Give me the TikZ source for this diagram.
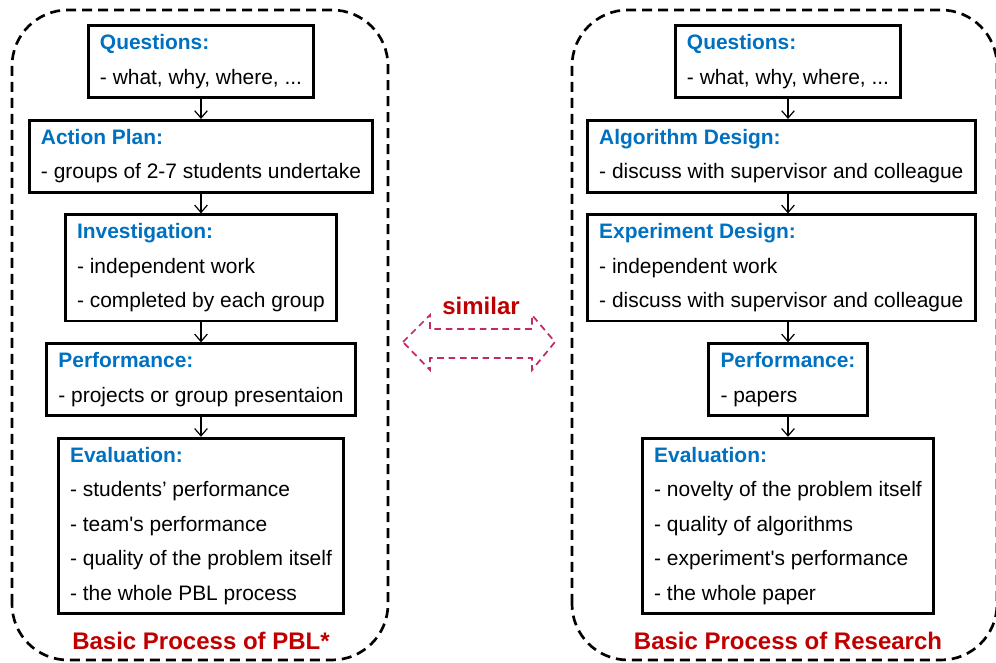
\documentclass[tikz,border=0pt]{standalone}
\usepackage{fontspec}
\setmainfont{Liberation Sans}[Ligatures=TeXOff]
\usepackage{tikz}
\usetikzlibrary{arrows.meta, positioning, calc}

\definecolor{headblue}{RGB}{0, 112, 192}
\definecolor{titlered}{RGB}{192, 0, 0}
\definecolor{simpink}{RGB}{196, 40, 104}

\newcommand{\stephead}[1]{\textcolor{headblue}{\textbf{#1}}}

\tikzset{
  stepbox/.style={draw, line width=2.2pt, align=left, inner xsep=8.8pt, inner ysep=6.6pt,
    font=\fontsize{15.7}{25.9}\selectfont},
  flow/.style={-{Straight Barb[length=5.5pt, width=9.5pt]}, line width=0.9pt},
  frame/.style={line width=2pt, dash pattern=on 7.5pt off 4.5pt, rounded corners=42pt},
  title/.style={text=titlered, font=\fontsize{18}{20}\selectfont\bfseries},
}

\begin{document}
\begin{tikzpicture}[x=0.75pt, y=0.75pt, node distance=14.9pt]
  \useasboundingbox (0,0) rectangle (996,663);

  % outer frames
  \draw[frame] (12,3) rectangle (388,653);
  \draw[frame] (572,3) rectangle (997,653);

  % PBL process
  \node[stepbox, anchor=north] (lq) at (201,638.5) {\stephead{Questions:}\\- what, why, where, ...};
  \node[stepbox, below=of lq] (lplan) {\stephead{Action Plan:}\\- groups of 2-7 students undertake};
  \node[stepbox, below=of lplan] (linv) {\stephead{Investigation:}\\- independent work\\- completed by each group};
  \node[stepbox, below=of linv] (lperf) {\stephead{Performance:}\\- projects or group presentaion};
  \node[stepbox, below=of lperf] (leval) {\stephead{Evaluation:}\\- students’ performance\\- team's performance\\- quality of the problem itself\\- the whole PBL process};
  \node[title] (ltitle) at (201,22) {Basic Process of PBL*};

  % research process
  \node[stepbox, anchor=north] (rq) at (788,638.5) {\stephead{Questions:}\\- what, why, where, ...};
  \node[stepbox, below=of rq, xshift=-5pt] (ralg) {\stephead{Algorithm Design:}\\- discuss with supervisor and colleague};
  \node[stepbox, below=of ralg] (rexp) {\stephead{Experiment Design:}\\- independent work\\- discuss with supervisor and colleague};
  \node[stepbox, below=of rq.south |- rexp.south] (rperf) {\stephead{Performance:}\\- papers};
  \node[stepbox, below=of rperf] (reval) {\stephead{Evaluation:}\\- novelty of the problem itself\\- quality of algorithms\\- experiment's performance\\- the whole paper};
  \node[title] (rtitle) at (788,22) {Basic Process of Research};

  % arrows between steps
  \draw[flow] (lq) -- (lplan);
  \draw[flow] (lplan) -- (linv);
  \draw[flow] (linv) -- (lperf);
  \draw[flow] (lperf) -- (leval);
  \draw[flow] (rq.south) -- (rq.south |- ralg.north);
  \draw[flow] (rq.south |- ralg.south) -- (rq.south |- rexp.north);
  \draw[flow] (rq.south |- rexp.south) -- (rperf.north);
  \draw[flow] (rperf) -- (reval);

  % similar
  \node[title] (sim) at (481,357) {similar};
  \coordinate (mid) at (479,321);
  \draw[simpink, line width=1.3pt, dash pattern=on 5pt off 3.5pt]
    ($(mid)+(-76,0)$) -- ++(27,27) -- ++(0,-14) -- ++(102,0) -- ++(0,14)
    -- ($(mid)+(76,0)$) -- ++(-23,-28) -- ++(0,12) -- ++(-102,0) -- ++(0,-12) -- cycle;
\end{tikzpicture}
\end{document}
